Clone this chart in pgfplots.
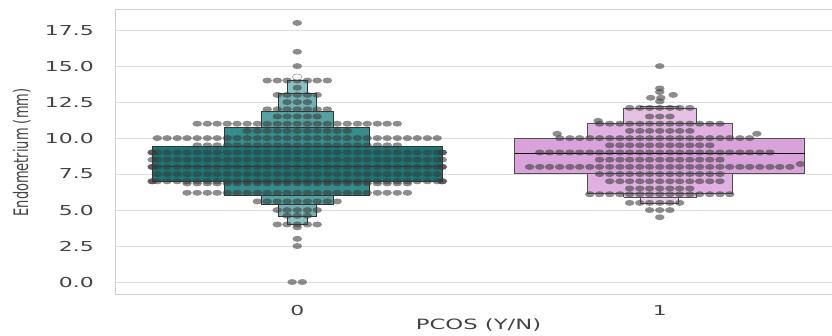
\documentclass[border=0pt]{standalone}
\usepackage{fontspec}
\setmainfont{DejaVu Sans}
\newfontfamily\tickfont{DejaVu Sans}[FakeStretch=1.6]
\newfontfamily\ylabfont{DejaVu Sans}[FakeStretch=0.65]
\usepackage{pgfplots}
\pgfplotsset{compat=1.18}
\definecolor{gridc}{HTML}{DEDEDE}
\definecolor{spinec}{HTML}{D0D0D0}
\definecolor{txt}{HTML}{444444}
\definecolor{edgeA}{HTML}{353535}
\definecolor{edgeB}{HTML}{505050}
\definecolor{tA}{HTML}{1B7676}
\definecolor{tB}{HTML}{358C8C}
\definecolor{tC}{HTML}{55A2A2}
\definecolor{tD}{HTML}{70B3B3}
\definecolor{tE}{HTML}{88C2C2}
\definecolor{pA}{HTML}{DAA2DA}
\definecolor{pB}{HTML}{E0B1E0}
\definecolor{pC}{HTML}{E6C1E6}
\definecolor{pD}{HTML}{ECD0EC}
\definecolor{dotc}{HTML}{3A3A3A}
\begin{document}
\begin{tikzpicture}
\begin{axis}[name=ax,
  width=725pt, height=285pt, scale only axis,
  xmin=-0.5, xmax=1.5, ymin=-0.9, ymax=18.9,
  axis line style={spinec, line width=1pt},
  ymajorgrids, major grid style={gridc, line width=1pt},
  xtick={0,1}, xticklabels={0,1},
  ytick={0,2.5,5,7.5,10,12.5,15,17.5},
  yticklabels={0.0,2.5,5.0,7.5,10.0,12.5,15.0,17.5},
  /pgf/number format/assume math mode=true,
  tick style={draw=none},
  ticklabel style={font=\fontsize{13.7}{15}\tickfont, text=txt},
  yticklabel style={anchor=east, inner sep=0pt, xshift=-22pt},
  xticklabel style={anchor=north, inner sep=0pt, yshift=-10pt},
  xlabel={PCOS (Y/N)},
  xlabel style={font=\fontsize{14.2}{16}\tickfont, text=txt, at={(axis description cs:0.5,0)}, anchor=north, inner sep=0pt, yshift=-24pt},
  ylabel={Endometrium (mm)},
  ylabel style={font=\fontsize{20}{22}\ylabfont, text=txt, at={(axis description cs:-0.1297,0.5)}, anchor=center, inner sep=0pt},
]
% ---- boxen group 0 (outermost quantiles first)
\addplot[fill=tE, draw=edgeA, line width=0.9pt, mark=none] coordinates {(-0.0276,3.97) (0.0276,3.97) (0.0276,14.02) (-0.0276,14.02) (-0.0276,3.97)};
\addplot[fill=tD, draw=edgeA, line width=0.9pt, mark=none] coordinates {(-0.052,4.55) (0.052,4.55) (0.052,13.09) (-0.052,13.09) (-0.052,4.55)};
\addplot[fill=tC, draw=edgeA, line width=0.9pt, mark=none] coordinates {(-0.1,5.37) (0.1,5.37) (0.1,11.83) (-0.1,11.83) (-0.1,5.37)};
\addplot[fill=tB, draw=edgeA, line width=0.9pt, mark=none] coordinates {(-0.2,6.0) (0.2,6.0) (0.2,10.76) (-0.2,10.76) (-0.2,6.0)};
\addplot[fill=tA, draw=edgeA, line width=0.9pt, mark=none] coordinates {(-0.4,7.0) (0.4,7.0) (0.4,9.41) (-0.4,9.41) (-0.4,7.0)};
\addplot[draw=edgeA, line width=0.9pt, mark=none] coordinates {(-0.4,8.0) (0.4,8.0)};
% ---- boxen group 1
\addplot[fill=pD, draw=edgeB, line width=0.9pt, mark=none] coordinates {(0.948,5.44) (1.052,5.44) (1.052,12.23) (0.948,12.23) (0.948,5.44)};
\addplot[fill=pC, draw=edgeB, line width=0.9pt, mark=none] coordinates {(0.9,5.9) (1.1,5.9) (1.1,12.09) (0.9,12.09) (0.9,5.9)};
\addplot[fill=pB, draw=edgeB, line width=0.9pt, mark=none] coordinates {(0.8,6.14) (1.2,6.14) (1.2,11.0) (0.8,11.0) (0.8,6.14)};
\addplot[fill=pA, draw=edgeB, line width=0.9pt, mark=none] coordinates {(0.6,7.53) (1.4,7.53) (1.4,9.97) (0.6,9.97) (0.6,7.53)};
\addplot[draw=black, line width=0.9pt, mark=none] coordinates {(0.6,8.9) (1.4,8.9)};
% ---- swarm group 0
\addplot[only marks, mark=*, mark size=3pt, mark options={xscale=1.6, fill=dotc, draw=dotc, draw opacity=0, fill opacity=0.58}] coordinates {
(0,18) (0,16) (0,15) (0,13.5) (0,3.8) (0,3.0) (0,2.5) (-0.014,0) (0.014,0)
(-0.083,14) (-0.055,14) (-0.028,14) (0,14) (0.028,14) (0.055,14) (0.083,14)
(-0.055,13) (-0.028,13) (0,13) (0.028,13) (0.055,13)
(-0.028,12.5) (0,12.5) (0.028,12.5)
(-0.083,12) (-0.055,12) (-0.028,12) (0,12) (0.028,12) (0.055,12) (0.083,12)
(-0.055,11.5) (-0.028,11.5) (0,11.5) (0.028,11.5) (0.055,11.5)
(-0.276,11) (-0.248,11) (-0.221,11) (-0.193,11) (-0.166,11) (-0.138,11) (-0.110,11) (-0.083,11) (-0.055,11) (-0.028,11) (0,11) (0.028,11) (0.055,11) (0.083,11) (0.110,11) (0.138,11) (0.166,11) (0.193,11) (0.221,11) (0.248,11) (0.276,11)
(-0.138,10.5) (-0.110,10.5) (-0.083,10.5) (-0.055,10.5) (-0.028,10.5) (0,10.5) (0.028,10.5) (0.055,10.5) (0.083,10.5) (0.110,10.5) (0.138,10.5)
(-0.386,10) (-0.359,10) (-0.331,10) (-0.304,10) (-0.276,10) (-0.248,10) (-0.221,10) (-0.193,10) (-0.166,10) (-0.138,10) (-0.110,10) (-0.083,10) (-0.055,10) (-0.028,10) (0,10) (0.028,10) (0.055,10) (0.083,10) (0.110,10) (0.138,10) (0.166,10) (0.193,10) (0.221,10) (0.248,10) (0.276,10) (0.304,10) (0.331,10) (0.359,10) (0.386,10)
(-0.276,9.5) (-0.248,9.5) (-0.221,9.5) (-0.193,9.5) (-0.166,9.5) (-0.138,9.5) (-0.110,9.5) (-0.083,9.5) (-0.055,9.5) (-0.028,9.5) (0,9.5) (0.028,9.5) (0.055,9.5) (0.083,9.5) (0.110,9.5) (0.138,9.5) (0.166,9.5) (0.193,9.5) (0.221,9.5) (0.248,9.5) (0.276,9.5)
(-0.386,9) (-0.359,9) (-0.331,9) (-0.304,9) (-0.276,9) (-0.248,9) (-0.221,9) (-0.193,9) (-0.166,9) (-0.138,9) (-0.110,9) (-0.083,9) (-0.055,9) (-0.028,9) (0,9) (0.028,9) (0.055,9) (0.083,9) (0.110,9) (0.138,9) (0.166,9) (0.193,9) (0.221,9) (0.248,9) (0.276,9) (0.304,9) (0.331,9) (0.359,9) (0.386,9)
(-0.4,9) (-0.4,9) (0.4,9) (0.4,9)
(-0.386,8.5) (-0.359,8.5) (-0.331,8.5) (-0.304,8.5) (-0.276,8.5) (-0.248,8.5) (-0.221,8.5) (-0.193,8.5) (-0.166,8.5) (-0.138,8.5) (-0.110,8.5) (-0.083,8.5) (-0.055,8.5) (-0.028,8.5) (0,8.5) (0.028,8.5) (0.055,8.5) (0.083,8.5) (0.110,8.5) (0.138,8.5) (0.166,8.5) (0.193,8.5) (0.221,8.5) (0.248,8.5) (0.276,8.5) (0.304,8.5) (0.331,8.5) (0.359,8.5) (0.386,8.5)
(-0.4,8.5) (0.4,8.5)
(-0.386,8) (-0.359,8) (-0.331,8) (-0.304,8) (-0.276,8) (-0.248,8) (-0.221,8) (-0.193,8) (-0.166,8) (-0.138,8) (-0.110,8) (-0.083,8) (-0.055,8) (-0.028,8) (0,8) (0.028,8) (0.055,8) (0.083,8) (0.110,8) (0.138,8) (0.166,8) (0.193,8) (0.221,8) (0.248,8) (0.276,8) (0.304,8) (0.331,8) (0.359,8) (0.386,8)
(-0.4,8) (-0.4,8) (0.4,8) (0.4,8)
(-0.386,7.5) (-0.359,7.5) (-0.331,7.5) (-0.304,7.5) (-0.276,7.5) (-0.248,7.5) (-0.221,7.5) (-0.193,7.5) (-0.166,7.5) (-0.138,7.5) (-0.110,7.5) (-0.083,7.5) (-0.055,7.5) (-0.028,7.5) (0,7.5) (0.028,7.5) (0.055,7.5) (0.083,7.5) (0.110,7.5) (0.138,7.5) (0.166,7.5) (0.193,7.5) (0.221,7.5) (0.248,7.5) (0.276,7.5) (0.304,7.5) (0.331,7.5) (0.359,7.5) (0.386,7.5)
(-0.386,7) (-0.359,7) (-0.331,7) (-0.304,7) (-0.276,7) (-0.248,7) (-0.221,7) (-0.193,7) (-0.166,7) (-0.138,7) (-0.110,7) (-0.083,7) (-0.055,7) (-0.028,7) (0,7) (0.028,7) (0.055,7) (0.083,7) (0.110,7) (0.138,7) (0.166,7) (0.193,7) (0.221,7) (0.248,7) (0.276,7) (0.304,7) (0.331,7) (0.359,7) (0.386,7)
(-0.4,7) (-0.4,7) (0.4,7) (0.4,7)
(-0.304,6.85) (-0.276,6.85) (-0.248,6.85) (-0.221,6.85) (-0.193,6.85) (-0.166,6.85) (-0.138,6.85) (-0.110,6.85) (-0.083,6.85) (-0.055,6.85) (-0.028,6.85) (0,6.85) (0.028,6.85) (0.055,6.85) (0.083,6.85) (0.110,6.85) (0.138,6.85) (0.166,6.85) (0.193,6.85) (0.221,6.85) (0.248,6.85) (0.276,6.85) (0.304,6.85)
(-0.304,6.2) (-0.276,6.2) (-0.248,6.2) (-0.221,6.2) (-0.193,6.2) (-0.166,6.2) (-0.138,6.2) (-0.110,6.2) (-0.083,6.2) (-0.055,6.2) (-0.028,6.2) (0,6.2) (0.028,6.2) (0.055,6.2) (0.083,6.2) (0.110,6.2) (0.138,6.2) (0.166,6.2) (0.193,6.2) (0.221,6.2) (0.248,6.2) (0.276,6.2) (0.304,6.2)
(-0.110,5.6) (-0.083,5.6) (-0.055,5.6) (-0.028,5.6) (0,5.6) (0.028,5.6) (0.055,5.6) (0.083,5.6) (0.110,5.6)
(-0.055,5.0) (-0.028,5.0) (0,5.0) (0.028,5.0) (0.055,5.0)
(-0.028,4.6) (0,4.6) (0.028,4.6)
(-0.055,4.0) (-0.028,4.0) (0,4.0) (0.028,4.0) (0.055,4.0)
};
\addplot[only marks, mark=*, mark size=3pt, mark options={xscale=1.6, fill=white, draw=gray}] coordinates {(0,14.25)};
% ---- swarm group 1
\addplot[only marks, mark=*, mark size=3pt, mark options={xscale=1.6, fill=dotc, draw=dotc, draw opacity=0, fill opacity=0.58}] coordinates {
(1,15) (1,13.45) (1,13.2) (1.037,13.0) (0.975,12.8) (1.003,12.8) (1,12.55) (1,4.5)
(0.917,12.1) (0.945,12.1) (0.972,12.1) (1,12.1) (1.028,12.1) (1.055,12.1) (1.083,12.1)
(0.972,11.5) (1,11.5) (1.028,11.5) (0.83,11.2)
(0.834,11) (0.862,11) (0.890,11) (0.917,11) (0.945,11) (0.972,11) (1,11) (1.028,11) (1.055,11) (1.083,11) (1.110,11) (1.138,11) (1.166,11)
(0.917,10.5) (0.945,10.5) (0.972,10.5) (1,10.5) (1.028,10.5) (1.055,10.5) (1.083,10.5)
(0.717,10.3) (1.268,10.3)
(0.724,10) (0.752,10) (0.779,10) (0.807,10) (0.834,10) (0.862,10) (0.890,10) (0.917,10) (0.945,10) (0.972,10) (1,10) (1.028,10) (1.055,10) (1.083,10) (1.110,10) (1.138,10) (1.166,10) (1.193,10) (1.221,10) (1.248,10)
(0.862,9.5) (0.890,9.5) (0.917,9.5) (0.945,9.5) (0.972,9.5) (1,9.5) (1.028,9.5) (1.055,9.5) (1.083,9.5) (1.110,9.5) (1.138,9.5)
(0.669,9) (0.696,9) (0.724,9) (0.752,9) (0.779,9) (0.807,9) (0.834,9) (0.862,9) (0.890,9) (0.917,9) (0.945,9) (0.972,9) (1,9) (1.028,9) (1.055,9) (1.083,9) (1.110,9) (1.138,9) (1.166,9) (1.193,9) (1.221,9) (1.248,9) (1.276,9) (1.304,9)
(0.834,8.5) (0.862,8.5) (0.890,8.5) (0.917,8.5) (0.945,8.5) (0.972,8.5) (1,8.5) (1.028,8.5) (1.055,8.5) (1.083,8.5) (1.110,8.5) (1.138,8.5) (1.166,8.5)
(1.388,8.2)
(0.641,8) (0.669,8) (0.696,8) (0.724,8) (0.752,8) (0.779,8) (0.807,8) (0.834,8) (0.862,8) (0.890,8) (0.917,8) (0.945,8) (0.972,8) (1,8) (1.028,8) (1.055,8) (1.083,8) (1.110,8) (1.138,8) (1.166,8) (1.193,8) (1.221,8) (1.248,8) (1.276,8) (1.304,8) (1.331,8) (1.359,8)
(0.834,7.5) (0.862,7.5) (0.890,7.5) (0.917,7.5) (0.945,7.5) (0.972,7.5) (1,7.5) (1.028,7.5) (1.055,7.5) (1.083,7.5) (1.110,7.5) (1.138,7.5) (1.166,7.5)
(0.862,7) (0.890,7) (0.917,7) (0.945,7) (0.972,7) (1,7) (1.028,7) (1.055,7) (1.083,7) (1.110,7) (1.138,7) (1.166,7)
(0.917,6.5) (0.945,6.5) (0.972,6.5) (1,6.5) (1.028,6.5) (1.055,6.5) (1.083,6.5)
(0.807,6.1) (0.834,6.1) (0.862,6.1) (0.890,6.1) (0.917,6.1) (0.945,6.1) (0.972,6.1) (1,6.1) (1.028,6.1) (1.055,6.1) (1.083,6.1) (1.110,6.1) (1.138,6.1) (1.166,6.1) (1.193,6.1)
(0.917,5.5) (0.945,5.5) (0.972,5.5) (1,5.5) (1.028,5.5) (1.055,5.5)
(0.972,5.0) (1,5.0) (1.028,5.0)
};
\end{axis}
\pgfresetboundingbox
\path[use as bounding box] ([shift={(-116pt,-41pt)}]ax.south west) rectangle ([shift={(-9pt,10pt)}]ax.north east);
\end{tikzpicture}
\end{document}
